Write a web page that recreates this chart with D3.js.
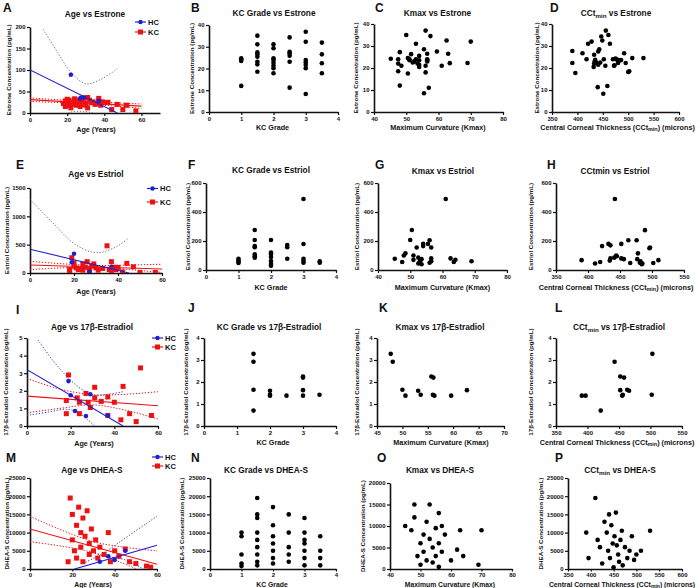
<!DOCTYPE html>
<html><head><meta charset="utf-8">
<script src="https://cdn.jsdelivr.net/npm/d3@7"></script>
<style>
body{margin:0;background:#fff}
text{font-family:"Liberation Sans",Arial,sans-serif;font-weight:bold;fill:#111}
</style>
</head><body>
<svg id="c" width="700" height="588"></svg>
<script>
// ---------------- DATA ----------------
// A: Age vs Estrone
const ageEstroneHC = [[22,89],[27,34],[29,36],[37,28]];
const ageEstroneKC = [[18,22],[19,15],[19,28],[20,25],[20,32],[20,18],[21,30],[21,22],[22,12],[22,26],[23,20],[24,33],[24,28],[25,22],[25,18],[26,30],[27,24],[27,15],[28,35],[28,20],[29,26],[30,22],[30,18],[31,36],[31,12],[32,30],[33,24],[34,26],[35,20],[36,22],[37,34],[37,28],[38,18],[39,26],[40,24],[42,25],[44,8],[47,20],[50,8],[52,18],[57,5]];
const ageEstroneHCfit = [[0,100],[47,0]];
const ageEstroneHCciU = [[7,195],[15,140],[22,95],[30,68],[38,78],[47,103]];
const ageEstroneHCciL = [[16,-8],[22,2],[28,4],[34,0],[40,-10]];
const ageEstroneKCfit = [[0,31],[60,16]];
const ageEstroneKCciU = [[0,35],[30,27],[60,21]];
const ageEstroneKCciL = [[0,27],[30,21],[60,11]];
// B: KC grade vs Estrone
const gradeEstrone = [[1,24.7],[1,24.1],[1,23.5],[1,12],[1.5,35.1],[1.5,31.1],[1.5,27.4],[1.5,26.5],[1.5,25.4],[1.5,23.1],[1.5,21.9],[1.5,18.5],[2,31.1],[2,29.3],[2,24.7],[2,23.9],[2,22.7],[2,21.3],[2,20.1],[2,17.8],[2.5,34.3],[2.5,27.7],[2.5,27],[2.5,25.9],[2.5,23.1],[2.5,11.2],[3,36.9],[3,32.3],[3,23.9],[3,22.8],[3,21.6],[3,20.1],[3,8.3],[3.5,31.9],[3.5,26.5],[3.5,22.4],[3.5,17.8]];
// C: Kmax vs Estrone
const kmaxEstrone = [[45.2,24.2],[47.5,24],[47.5,22],[47.5,18.5],[48,27.2],[48,12],[48.5,21],[50,35],[50.5,17.5],[50.5,24.5],[51,23.5],[51,24],[51.5,26.3],[52,22.5],[52.5,23],[53,31],[53,24],[53.5,22],[54,25.5],[54,23.5],[54,21.5],[54,20.5],[55.5,28.5],[55.5,8.5],[56,37],[56,21],[56,18],[56.5,24],[56.5,23.5],[56.5,23],[56.5,26.5],[57,11],[57.5,34.5],[59.5,27.5],[61,21],[62.5,32.5],[63,26.5],[63.5,22.2],[69,22.3],[70,32]];
// D: CCTmin vs Estrone
const cctEstrone = [[390,27.7],[390,22.3],[396,17.7],[410,26.7],[418,24],[421,31],[428,32],[432,20.5],[433,22],[433,26],[434,23],[435,23.7],[437,22.5],[440,11.3],[441,21.5],[441,27.5],[443,28.5],[445,22.5],[447,34.3],[449,32.5],[451,8.3],[452,24],[455,21],[456,37],[459,11.8],[461,35],[464,31],[470,24],[472,21],[473,21.2],[475,24.3],[478,23.8],[480,22.3],[481,23.5],[484,23.5],[486,23.6],[492,26.7],[495,22.3],[500,18.2],[502,18.5],[508,24.5],[530,24.5]];
// E: Age vs Estriol
const ageEstriolHC = [[20,340],[19,189],[37,111],[27,20]];
const ageEstriolKC = [[18,40],[18,60],[19,270],[20,180],[20,120],[21,90],[22,60],[23,80],[24,160],[24,50],[25,100],[26,200],[27,70],[27,50],[28,120],[29,160],[30,90],[31,50],[33,80],[35,480],[36,60],[37,200],[37,10],[38,100],[39,60],[39,80],[40,100],[42,20],[44,170],[47,110],[50,10],[57,10]];
const ageEstriolHCfit = [[0,420],[45,0]];
const ageEstriolHCciU = [[0,1300],[10,900],[20,520],[28,370],[33,370],[40,480],[45,620]];
const ageEstriolKCfit = [[0,140],[60,70]];
const ageEstriolKCciU = [[0,205],[20,150],[32,132],[45,140],[60,155]];
const ageEstriolKCciL = [[0,60],[20,100],[32,100],[45,60],[60,10]];
// F: KC grade vs Estriol
const gradeEstriol = [[1,78],[1,65],[1,55],[1,48],[1.5,276],[1.5,207],[1.5,166],[1.5,157],[1.5,108],[1.5,95],[1.5,85],[2,207],[2,120],[2,110],[2,90],[2,62],[2,42],[2,30],[2.5,172],[2.5,157],[2.5,78],[3,490],[3,179],[3,78],[3,62],[3,50],[3.5,60],[3.5,50]];
// G: Kmax vs Estriol
const kmaxEstriol = [[45.2,78],[47.5,55],[48,100],[48.5,115],[50,207],[50.5,276],[51,100],[51,70],[52,155],[52.5,85],[52.5,45],[53,60],[53.5,75],[53.5,40],[54,180],[54,165],[55.5,180],[56,205],[56,50],[56.5,155],[56.5,80],[56.5,60],[61,490],[62.5,80],[63.5,55],[64,70],[69,60]];
// H: CCTmin vs Estriol
const cctEstriol = [[390,68],[411,45],[419,55],[422,165],[432,180],[435,170],[434,65],[435,80],[441,85],[442,490],[444,100],[445,95],[452,180],[452,80],[456,75],[463,205],[466,48],[476,205],[477,75],[478,115],[481,50],[482,60],[484,40],[485,45],[489,275],[496,150],[497,155],[502,48],[510,68]];
// I: Age vs 17β-Estradiol
const ageEstradiolHC = [[19,2.55],[20,1.75],[22,0.85],[27,0.57],[29,1.8],[37,0.6]];
const ageEstradiolKC = [[18,1.45],[18,0.7],[19,2.9],[23,1.6],[24,1.35],[24,0.7],[27,1.85],[28,1.35],[29,1.05],[31,2.2],[31,1.6],[34,1.4],[37,1.65],[37,0.6],[40,1.35],[43,0.35],[44,2.25],[47,0.7],[50,0.25],[52,3.3],[57,0.6]];
const ageEstradiolHCfit = [[0,3.2],[44,0]];
const ageEstradiolHCciU = [[5,4.9],[12,3.7],[20,2.6],[26,2.0],[30,1.75],[37,1.8],[44,1.95]];
const ageEstradiolHCciL = [[0,0.6],[10,0.8],[18,0.95],[23,0.8],[27,0.45],[31,0]];
const ageEstradiolKCfit = [[0,1.7],[60,1.15]];
const ageEstradiolKCciU = [[0,2.7],[15,2.1],[30,1.78],[45,1.8],[60,1.95]];
const ageEstradiolKCciL = [[0,0.75],[15,1.0],[30,1.2],[45,0.9],[60,0.4]];
// J: KC grade vs 17β-Estradiol
const gradeEstradiol = [[1.5,3.28],[1.5,2.92],[1.5,1.65],[1.5,0.7],[2,1.6],[2,1.42],[2,1.38],[2.5,1.38],[3,2.25],[3,2.2],[3,1.63],[3,1.38],[3.5,1.42]];
// K: Kmax vs 17β-Estradiol
const kmaxEstradiol = [[47.7,3.28],[48.1,2.92],[50,1.65],[50.6,1.38],[53.1,1.6],[53.6,1.42],[55.7,2.25],[56.1,2.2],[56,1.42],[56.3,1.38],[59.6,1.38],[62.7,1.63]];
// L: CCTmin vs 17β-Estradiol
const cctEstradiol = [[391,1.38],[397,1.38],[421,0.7],[443,2.92],[452,2.25],[452,1.63],[455,1.38],[456,1.42],[458,2.2],[463,1.65],[466,1.6],[502,1.42],[503,3.28]];
// M: Age vs DHEA-S
const ageDheaHC = [[33,2000],[37,3500],[40,2500],[45,5000]];
const ageDheaKC = [[18,2000],[19,19500],[20,15000],[20,8000],[21,5000],[22,12000],[22,3000],[23,17000],[24,10000],[24,6000],[25,14000],[25,2000],[26,9000],[27,16000],[28,7000],[28,4000],[29,11000],[30,5000],[31,8000],[32,3000],[33,6000],[35,4000],[37,10000],[38,2000],[40,5000],[42,3500],[45,5500],[47,2000],[50,1500],[55,800],[57,500]];
const ageDheaHCfit = [[21,0],[60,6500]];
const ageDheaHCciU = [[25,1500],[35,4500],[45,8500],[55,12500],[60,14500]];
const ageDheaHCciL = [[28,5000],[35,3500],[45,2500],[55,-500],[60,-2000]];
const ageDheaKCfit = [[0,11000],[60,1300]];
const ageDheaKCciU = [[0,14500],[30,7500],[60,5000]];
const ageDheaKCciL = [[0,7500],[30,4500],[60,-2500]];
// N: KC grade vs DHEA-S
const gradeDhea = [[1,10000],[1,9000],[1,4000],[1,1500],[1,800],[1.5,19500],[1.5,15000],[1.5,14000],[1.5,10000],[1.5,8000],[1.5,6000],[1.5,4000],[1.5,2000],[1.5,1000],[2,17000],[2,12000],[2,9000],[2,7000],[2,5000],[2,3000],[2,1500],[2.5,15000],[2.5,10000],[2.5,6000],[2.5,4000],[2.5,2000],[3,14000],[3,10000],[3,8000],[3,7000],[3,5000],[3,3000],[3,1000],[3.5,9000],[3.5,5000],[3.5,3000],[3.5,1000]];
// O: Kmax vs DHEA-S
const kmaxDhea = [[45,10000],[47,9000],[48,12000],[48,15000],[49,3000],[50,6000],[50,1000],[51,8000],[51,4000],[52,11000],[52,2000],[53,15000],[53,7000],[54,5000],[54,1500],[55,9500],[55,3000],[56,13000],[56,6000],[56,500],[57,10000],[57,4000],[58,8000],[60,2000],[62,4500],[63,9000],[64,3000],[69,1000],[70,9000]];
// P: CCTmin vs DHEA-S
const cctDhea = [[390,10000],[395,3000],[410,19500],[415,8000],[420,6000],[425,1500],[430,13000],[435,10000],[438,5000],[440,15000],[442,3000],[445,12000],[448,7000],[450,500],[452,9000],[455,15500],[457,6500],[460,4000],[462,2000],[465,8000],[468,10500],[470,1000],[475,6000],[480,3000],[485,5000],[490,9000],[495,2500],[500,4000],[510,5000],[530,10500]];

// tick values
const ticksAge70 = [0,20,40,60];
const ticksAge60 = [0,20,40,60];
const ticksGrade = [0,1,2,3,4];
const ticksKmax = [40,50,60,70,80];
const ticksKmax2 = [45,50,55,60,65,70];
const ticksCct600 = [350,400,450,500,550,600];
const ticksCct550 = [350,400,450,500,550];
const ticksEstrone200 = [0,50,100,150,200];
const ticksEstrone40 = [0,10,20,30,40];
const ticksEstriol1500 = [0,500,1000,1500];
const ticksEstriol600 = [0,200,400,600];
const ticksEstradiol5 = [0,1,2,3,4,5];
const ticksEstradiol4 = [0,1,2,3,4];
const ticksDhea25 = [0,5000,10000,15000,20000,25000];
const ticksDhea20 = [0,5000,10000,15000,20000];

// ---------------- LAYOUT ----------------
const cctLabel = [{t:"Central Corneal Thickness  (CCt"},{t:"min",sub:1},{t:") (microns)"}];
const panels = [
 {L:"A",lx:3,ly:12,title:[{t:"Age vs  Estrone"}],tx:95,ty:16.5,xd:[0,70],xt:ticksAge70,yd:[0,200],yt:ticksEstrone200,x0:30,x1:160,y0:113,y1:27,xl:[{t:"Age (Years)"}],xlx:96,xly:132,yl:"Estrone Concentration (pg/mL)",ylx:11,
  hc:ageEstroneHC,kc:ageEstroneKC,hcfit:ageEstroneHCfit,kcfit:ageEstroneKCfit,hcci:[ageEstroneHCciU,ageEstroneHCciL],kcci:[ageEstroneKCciU,ageEstroneKCciL],hcciColor:"#777",leg:{x:135,y:22,dy:10}},
 {L:"B",lx:191,ly:12,title:[{t:"KC  Grade vs Estrone"}],tx:274,ty:16,xd:[0,4],xt:ticksGrade,yd:[0,40],yt:ticksEstrone40,x0:209,x1:338,y0:112,y1:25,xl:[{t:"KC Grade"}],xlx:272.5,xly:130,yl:"Estrone Concentration (pg/mL)",ylx:193.5,pts:gradeEstrone},
 {L:"C",lx:375,ly:12,title:[{t:"Kmax vs Estrone"}],tx:437.5,ty:16,xd:[40,80],xt:ticksKmax,yd:[0,40],yt:ticksEstrone40,x0:374,x1:503,y0:112,y1:24,xl:[{t:"Maximum Curvature (Kmax)"}],xlx:438,xly:129.5,yl:"Estrone Concentration (pg/mL)",ylx:358,pts:kmaxEstrone},
 {L:"D",lx:550,ly:12,title:[{t:"CCt"},{t:"min",sub:1},{t:" vs Estrone"}],tx:616,ty:16,xd:[350,600],xt:ticksCct600,yd:[0,40],yt:ticksEstrone40,x0:552,x1:679,y0:112,y1:24,xl:cctLabel,xlx:617.5,xly:129.5,yl:"Estrone Concentration (pg/mL)",ylx:539,pts:cctEstrone},

 {L:"E",lx:16,ly:168.5,title:[{t:"Age vs Estriol"}],tx:96,ty:177,xd:[0,60],xt:ticksAge60,yd:[0,1500],yt:ticksEstriol1500,x0:30,x1:162,y0:273,y1:188,xl:[{t:"Age (Years)"}],xlx:96,xly:293.5,yl:"Estriol Concentration (pg/mL)",ylx:9,
  hc:ageEstriolHC,kc:ageEstriolKC,hcfit:ageEstriolHCfit,kcfit:ageEstriolKCfit,hcci:[ageEstriolHCciU],kcci:[ageEstriolKCciU,ageEstriolKCciL],hcciColor:"#777",leg:{x:147,y:188.5,dy:13.5}},
 {L:"F",lx:188,ly:168.5,title:[{t:"KC  Grade vs  Estriol"}],tx:271,ty:173,xd:[0,4],xt:ticksGrade,yd:[0,600],yt:ticksEstriol600,x0:206,x1:336,y0:270,y1:183,xl:[{t:"KC Grade"}],xlx:271,xly:289.5,yl:"Estriol Concentration (pg/mL)",ylx:189.5,pts:gradeEstriol},
 {L:"G",lx:375,ly:168.5,title:[{t:"Kmax vs  Estriol"}],tx:443,ty:174,xd:[40,80],xt:ticksKmax,yd:[0,600],yt:ticksEstriol600,x0:378,x1:507,y0:270,y1:183,xl:[{t:"Maximum Curvature (Kmax)"}],xlx:442.5,xly:289.5,yl:"Estriol Concentration (pg/mL)",ylx:359,pts:kmaxEstriol},
 {L:"H",lx:547,ly:168.5,title:[{t:"CCtmin vs  Estriol"}],tx:615,ty:174,xd:[350,550],xt:ticksCct550,yd:[0,600],yt:ticksEstriol600,x0:556,x1:684,y0:270,y1:183,xl:cctLabel,xlx:616,xly:289.5,yl:"Estriol Concentration (pg/mL)",ylx:533,pts:cctEstriol},

 {L:"I",lx:16,ly:313.5,title:[{t:"Age vs 17β-Estradiol"}],tx:92,ty:329.5,xd:[0,60],xt:ticksAge60,yd:[0,5],yt:ticksEstradiol5,x0:27,x1:158,y0:426,y1:338,xl:[{t:"Age (Years)"}],xlx:94,xly:445.5,yl:"17β-Estradiol Concentration (pg/mL)",ylx:8,
  hc:ageEstradiolHC,kc:ageEstradiolKC,hcfit:ageEstradiolHCfit,kcfit:ageEstradiolKCfit,hcci:[ageEstradiolHCciU,ageEstradiolHCciL],kcci:[ageEstradiolKCciU,ageEstradiolKCciL],hcciColor:"#3344dd",leg:{x:152,y:338,dy:9}},
 {L:"J",lx:188,ly:312,title:[{t:"KC  Grade vs 17β-Estradiol"}],tx:269,ty:329.5,xd:[0,4],xt:ticksGrade,yd:[0,4],yt:ticksEstradiol4,x0:204,x1:336,y0:426,y1:338,xl:[{t:"KC Grade"}],xlx:273,xly:444.5,yl:"17β-Estradiol Concentration (pg/mL)",ylx:188,pts:gradeEstradiol},
 {L:"K",lx:379,ly:312,title:[{t:"Kmax vs 17β-Estradiol"}],tx:440,ty:330,xd:[45,70],xt:ticksKmax2,yd:[0,4],yt:ticksEstradiol4,x0:377,x1:504,y0:426,y1:338,xl:[{t:"Maximum Curvature (Kmax)"}],xlx:441,xly:444.5,yl:"17β-Estradiol Concentration (pg/mL)",ylx:359,pts:kmaxEstradiol},
 {L:"L",lx:555,ly:312,title:[{t:"CCt"},{t:"min",sub:1},{t:" vs 17β-Estradiol"}],tx:619,ty:329.5,xd:[350,550],xt:ticksCct550,yd:[0,4],yt:ticksEstradiol4,x0:556,x1:682,y0:426,y1:338,xl:cctLabel,xlx:617,xly:444.5,yl:"17β-Estradiol Concentration (pg/mL)",ylx:533,pts:cctEstradiol},

 {L:"M",lx:6,ly:462,title:[{t:"Age vs  DHEA-S"}],tx:92,ty:473,xd:[0,60],xt:ticksAge60,yd:[0,25000],yt:ticksDhea25,x0:30,x1:157,y0:569,y1:478,xl:[{t:"Age (Years)"}],xlx:93,xly:586.5,yl:"DHEA-S Concentration (pg/mL)",ylx:9,
  hc:ageDheaHC,kc:ageDheaKC,hcfit:ageDheaHCfit,kcfit:ageDheaKCfit,hcci:[ageDheaHCciU,ageDheaHCciL],kcci:[ageDheaKCciU,ageDheaKCciL],hcciColor:"#3344dd",leg:{x:152,y:457,dy:9}},
 {L:"N",lx:191,ly:462,title:[{t:"KC Grade vs  DHEA-S"}],tx:266,ty:473,xd:[0,4],xt:ticksGrade,yd:[0,25000],yt:ticksDhea25,x0:210,x1:336,y0:569,y1:478,xl:[{t:"KC Grade"}],xlx:272,xly:586.5,yl:"DHEA-S Concentration (pg/mL)",ylx:184,pts:gradeDhea},
 {L:"O",lx:377,ly:462,title:[{t:"Kmax vs DHEA-S"}],tx:440,ty:473,xd:[40,80],xt:ticksKmax,yd:[0,20000],yt:ticksDhea20,x0:390,x1:512,y0:569,y1:483,xl:[{t:"Maximum Curvature (Kmax)"}],xlx:450,xly:586.5,yl:"DHEA-S Concentration (pg/mL)",ylx:365,pts:kmaxDhea},
 {L:"P",lx:555,ly:462,title:[{t:"CCt"},{t:"min",sub:1},{t:" vs DHEA-S"}],tx:620,ty:473,xd:[350,600],xt:ticksCct600,yd:[0,25000],yt:ticksDhea25,x0:568,x1:682,y0:569,y1:478,xl:cctLabel,xlx:622,xly:586.5,yl:"DHEA-S Concentration (pg/mL)",ylx:543,pts:cctDhea}
];

// ---------------- DRAW ----------------
const svg = d3.select("#c");
const BLUE = "#1f1fd0", RED = "#ee1111";

function rich(sel, segs, size) {
  let prevSub = false;
  segs.forEach(s => {
    const ts = sel.append("tspan").text(s.t);
    if (s.sub) { ts.attr("font-size", size*0.75).attr("dy", size*0.25); prevSub = true; }
    else if (prevSub) { ts.attr("dy", -size*0.25); prevSub = false; }
  });
}

panels.forEach((p, i) => {
  const g = svg.append("g");
  const x = d3.scaleLinear().domain(p.xd).range([p.x0, p.x1]);
  const y = d3.scaleLinear().domain(p.yd).range([p.y0, p.y1]);
  const cid = "clip" + i;
  svg.append("clipPath").attr("id", cid).append("rect")
    .attr("x", p.x0).attr("y", p.y1 - 2).attr("width", p.x1 - p.x0 + 2).attr("height", p.y0 - p.y1 + 2);

  const small = p.y0 > 560;
  const xa = g.append("g").attr("transform", `translate(0,${p.y0})`)
    .call(d3.axisBottom(x).tickValues(p.xt).tickSize(small ? 2.5 : 3).tickSizeOuter(0).tickPadding(small ? 0.8 : 1.5).tickFormat(d3.format("d")));
  const ya = g.append("g").attr("transform", `translate(${p.x0},0)`)
    .call(d3.axisLeft(y).tickValues(p.yt).tickSize(3).tickSizeOuter(0).tickPadding(1.5).tickFormat(d3.format("d")));
  [xa, ya].forEach(a => {
    a.select(".domain").attr("stroke", "#111").attr("stroke-width", 1.6);
    a.selectAll(".tick line").attr("stroke", "#111").attr("stroke-width", 1.2);
    a.selectAll("text").attr("font-size", 6).attr("font-family", null).attr("fill", "#111");
  });

  g.append("text").attr("x", p.lx).attr("y", p.ly).attr("font-size", 12).text(p.L);
  const t = g.append("text").attr("x", p.tx).attr("y", p.ty).attr("text-anchor", "middle").attr("font-size", 8.3);
  rich(t, p.title, 8.3);
  const xl = g.append("text").attr("x", p.xlx).attr("y", p.xly).attr("text-anchor", "middle").attr("font-size", small ? 6.8 : 7.2);
  rich(xl, p.xl, small ? 6.8 : 7.2);
  g.append("text").attr("transform", `translate(${p.ylx},${(p.y0 + p.y1) / 2}) rotate(-90)`)
    .attr("text-anchor", "middle").attr("font-size", 6.2).text(p.yl);

  const line = d3.line().x(d => x(d[0])).y(d => y(d[1]));
  const curve = d3.line().x(d => x(d[0])).y(d => y(d[1])).curve(d3.curveCatmullRom);
  const plot = g.append("g").attr("clip-path", `url(#${cid})`);

  if (p.pts) {
    plot.selectAll("circle").data(p.pts).join("circle")
      .attr("cx", d => x(d[0])).attr("cy", d => y(d[1])).attr("r", 2.3).attr("fill", "#000");
  }
  if (p.kc) {
    p.hcci.forEach(c => plot.append("path").attr("d", curve(c)).attr("fill", "none")
      .attr("stroke", p.hcciColor).attr("stroke-width", 1).attr("stroke-dasharray", "1.3,1.7"));
    p.kcci.forEach(c => plot.append("path").attr("d", curve(c)).attr("fill", "none")
      .attr("stroke", RED).attr("stroke-width", 1).attr("stroke-dasharray", "1.3,1.7"));
    plot.selectAll("rect.kc").data(p.kc).join("rect").attr("class", "kc")
      .attr("x", d => x(d[0]) - 2.5).attr("y", d => y(d[1]) - 2.5).attr("width", 5).attr("height", 5).attr("fill", RED);
    plot.selectAll("circle.hc").data(p.hc).join("circle").attr("class", "hc")
      .attr("cx", d => x(d[0])).attr("cy", d => y(d[1])).attr("r", 2.3).attr("fill", BLUE);
    plot.append("path").attr("d", line(p.kcfit)).attr("stroke", RED).attr("stroke-width", 1.1).attr("fill", "none");
    plot.append("path").attr("d", line(p.hcfit)).attr("stroke", BLUE).attr("stroke-width", 1.1).attr("fill", "none");
    const lg = g.append("g");
    const L = p.leg;
    lg.append("line").attr("x1", L.x).attr("x2", L.x + 11).attr("y1", L.y).attr("y2", L.y).attr("stroke", BLUE).attr("stroke-width", 1.2);
    lg.append("circle").attr("cx", L.x + 5.5).attr("cy", L.y).attr("r", 2.2).attr("fill", BLUE);
    lg.append("text").attr("x", L.x + 13).attr("y", L.y + 2.7).attr("font-size", 7.5).attr("font-weight", "normal").text("HC");
    lg.append("line").attr("x1", L.x).attr("x2", L.x + 11).attr("y1", L.y + L.dy).attr("y2", L.y + L.dy).attr("stroke", RED).attr("stroke-width", 1.2);
    lg.append("rect").attr("x", L.x + 3).attr("y", L.y + L.dy - 2.5).attr("width", 5).attr("height", 5).attr("fill", RED);
    lg.append("text").attr("x", L.x + 13).attr("y", L.y + L.dy + 2.7).attr("font-size", 7.5).attr("font-weight", "normal").text("KC");
  }
});
</script>
</body></html>
